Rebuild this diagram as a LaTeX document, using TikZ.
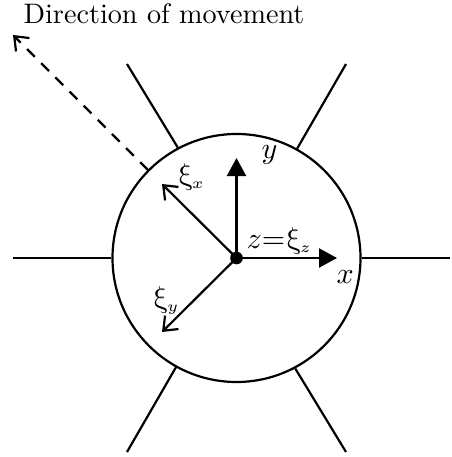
\documentclass[tikz,border=0pt]{standalone}
\usetikzlibrary{arrows.meta}
\newcommand\uprightxi{\tikz[baseline=(q.base)]\node[inner sep=0pt,xslant=-0.2,transform shape](q){$\xi$};}
\newcommand\subkern{\kern-1.2pt}
\tikzset{
 x=1pt,y=-1pt,
 ln/.style={line width=2.2pt},
 open/.style={ln,-{Straight Barb[length=12pt,width=19pt,line width=2.2pt]}},
 solid tip/.style={ln,-{Triangle[length=18pt,width=19pt]}},
 lab/.style={inner sep=0pt,scale=2.82},
 mathlab/.style={inner sep=0pt,scale=3},
}
\begin{document}
\begin{tikzpicture}
\useasboundingbox (0,0) rectangle (451,457);
\coordinate (c) at (236.5,258);
\node[ln,draw,circle,minimum size=248pt,inner sep=0pt] (body) at (c) {};
\coordinate (L) at (13,258); \coordinate (R) at (450,258);
\coordinate (TL) at (127,64); \coordinate (TR) at (346,64);
\coordinate (BL) at (127,452); \coordinate (BR) at (346,452);
\foreach \p/\a in {L/180,R/0,TL/118.5,TR/61.5,BL/241.5,BR/298.5}
  \draw[ln] (\p) -- (body.\a);
\coordinate (dirS) at (148,170); \coordinate (dirE) at (13,35);
\draw[open,dash pattern=on 11pt off 9pt] (dirS) -- (dirE);
\coordinate (yE) at (236.5,158); \coordinate (xE) at (337,258);
\coordinate (xiX) at (162,184); \coordinate (xiY) at (162,332);
\draw[solid tip] (c) -- (yE);
\draw[solid tip] (c) -- (xE);
\draw[open] (c) -- (xiX);
\draw[open] (c) -- (xiY);
\fill (c) circle (6.3pt);
\node[lab,anchor=base west] (title) at (23,24) {Direction of movement};
\node[mathlab,anchor=base west] (ly) at (261,158) {$y$};
\node[mathlab,anchor=base west] (lx) at (336,283) {$x$};
\node[mathlab,anchor=base west] (lxx) at (175,184) {\uprightxi\subkern$_{\scriptscriptstyle x}$};
\node[mathlab,anchor=base west] (lxy) at (150,307) {\uprightxi\subkern$_{\scriptscriptstyle y}$};
\node[mathlab,anchor=base west] (lz) at (246,248) {$z{=}$\kern-0.5pt\uprightxi\subkern$_{\scriptscriptstyle z}$};
\end{tikzpicture}
\end{document}
